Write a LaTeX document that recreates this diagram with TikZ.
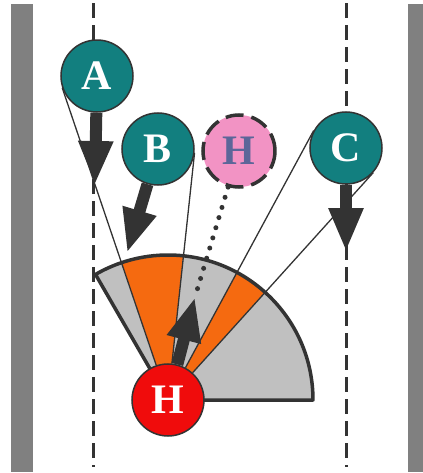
\documentclass[tikz,border=0pt]{standalone}
\usepackage{fontspec}
\setmainfont{Liberation Serif}
\usepackage{tikz}
\usetikzlibrary{arrows.meta}
\usetikzlibrary{calc}
\definecolor{dark}{HTML}{333333}
\definecolor{teal0}{HTML}{127F7F}
\definecolor{pink0}{HTML}{F293C4}
\definecolor{slate0}{HTML}{5C6699}
\definecolor{red0}{HTML}{F00C0C}
\definecolor{orange0}{HTML}{F56A10}
\definecolor{sector0}{HTML}{C0C0C0}
\definecolor{wall0}{HTML}{808080}

\begin{document}
\begin{tikzpicture}[x=0.5pt,y=0.5pt,>={Triangle[length=22pt,width=16pt]}]
		\tikzstyle{car}=[circle,draw=dark,line width=0.75pt,minimum size=36pt,inner sep=0pt,
			text=white,font=\fontsize{21pt}{21pt}\selectfont\bfseries];
		\tikzstyle{lane}=[dark,line width=1.5pt,dash pattern=on 7.5pt off 3.5pt];
		\tikzstyle{move}=[->,dark,line width=6pt];
		\tikzstyle{ray}=[dark,line width=0.65pt];
		\useasboundingbox(0,0)rectangle(423,473);
		\fill[wall0](11,1)rectangle(33,469);
		\fill[wall0](408,1)rectangle(423,469);
		\draw[lane](94,470)--(94,6);
		\draw[lane](347,470)--(347,6);

		\coordinate(o)at(168,73);
		\fill[sector0](o)--++(0:145)arc[start angle=0,end angle=120,radius=145]--cycle;
		\fill[orange0](o)--++(84:145)arc[start angle=84,end angle=108.6,radius=145]--cycle;
		\fill[orange0](o)--++(48.1:145)arc[start angle=48.1,end angle=61.5,radius=145]--cycle;
		\draw[dark,line width=1.75pt,line join=round](o)--++(0:145)arc[start angle=0,end angle=120,radius=145]--cycle;

		\node[car,fill=teal0](A)at(97,397){A};
		\node[car,fill=teal0](B)at(158,324){B};
		\node[car,fill=pink0,text=slate0,line width=1.75pt,dash pattern=on 9pt off 4pt](G)at(239,322){H};
		\node[car,fill=teal0](C)at(346,325){C};
		\node[car,fill=red0](H)at(o){H};
		\coordinate(at)at(95,288);
		\coordinate(bt)at(127,220);
		\coordinate(ct)at(346,221);
		\coordinate(ht)at(195,176);

		\draw[ray](H)--(tangent cs:node=A,point={(H)},solution=2);
		\draw[ray](H)--(tangent cs:node=B,point={(H)},solution=1);
		\draw[ray](H)--(tangent cs:node=C,point={(H)},solution=1);
		\draw[ray](H)--(tangent cs:node=C,point={(H)},solution=2);
		\draw[dark,line width=2.5pt,line cap=round,dash pattern=on 0pt off 5.3pt](G)--(ht);

		\draw[move](A)--(at);
		\draw[move](B)--(bt);
		\draw[move](C)--(ct);
		\draw[move](H)--(ht);
	\end{tikzpicture}
\end{document}
